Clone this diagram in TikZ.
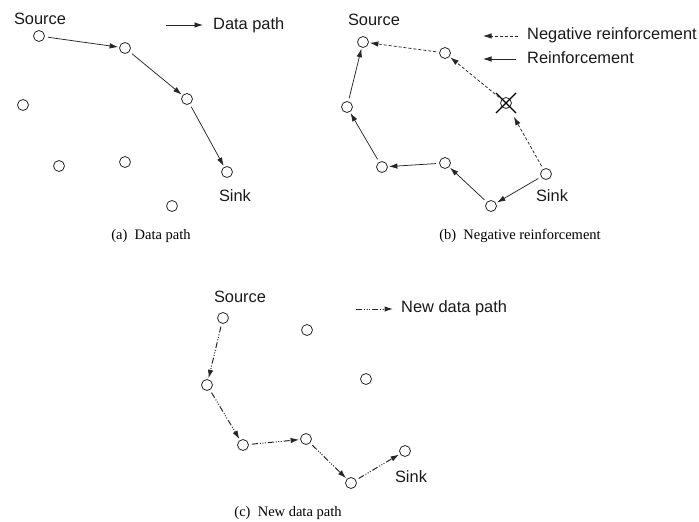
\documentclass[tikz,border=0pt]{standalone}
\usepackage{fontspec}
\setmainfont{Liberation Serif}
\setsansfont{Liberation Sans}
\usetikzlibrary{arrows.meta}
\begin{document}
\begin{tikzpicture}[x=1pt,y=-1pt,
  nd/.style={circle,draw=black!85,line width=0.8pt,minimum size=11pt,inner sep=0pt},
  lbl/.style={font=\sffamily\fontsize{16.4}{18}\selectfont,inner sep=0pt,text=black!90},
  captxt/.style={font=\rmfamily\fontsize{14.5}{16}\selectfont,inner sep=0pt},
  arr/.style={line width=0.75pt,draw=black!85,-{Latex[length=8.5pt,width=5.5pt]},shorten <=3pt,shorten >=1pt},
  neg/.style={arr,dash pattern=on 3pt off 2pt},
  newp/.style={arr,line width=1pt,dash pattern=on 6pt off 2pt on 1pt off 1.5pt on 1pt off 1.5pt on 1pt off 2pt},
  legarr/.style={line width=0.8pt,draw=black!85,-{Latex[length=8.5pt,width=5.5pt]}}]
\useasboundingbox (0,0) rectangle (699,522);

% ---------- (a) ----------
\node[nd] (a1) at (39,36) {};
\node[nd] (a2) at (125,48) {};
\node[nd] (a3) at (187,99) {};
\node[nd] (a4) at (227,172) {};
\node[nd] (a5) at (23,105) {};
\node[nd] (a6) at (59,166) {};
\node[nd] (a7) at (125,162) {};
\node[nd] (a8) at (172,206) {};
\node[lbl] (asrc) at (40,19) {Source};
\node[lbl] (asnk) at (235,196) {Sink};
\draw[arr] (a1) -- (a2);
\draw[arr] (a2) -- (a3);
\draw[arr] (a3) -- (a4);
\coordinate (la1) at (166,25);
\coordinate (la2) at (203,25);
\draw[legarr] (la1) -- (la2);
\node[lbl,anchor=west] (lat) at (213,25) {Data path};
\node[captxt] (capa) at (151,236) {(a)\ \ Data path};

% ---------- (b) ----------
\node[nd] (b1) at (363,42) {};
\node[nd] (b2) at (445,53) {};
\node[nd] (b3) at (506,103) {};
\node[nd] (b4) at (347,107) {};
\node[nd] (b5) at (382,167) {};
\node[nd] (b6) at (445,163) {};
\node[nd] (b7) at (546,174) {};
\node[nd] (b8) at (491,206) {};
\node[lbl] (bsrc) at (374,20) {Source};
\node[lbl] (bsnk) at (552,196) {Sink};
\draw[line width=1.1pt] ([shift={(-10,-10)}]b3.center) -- ([shift={(10,10)}]b3.center);
\draw[line width=1.1pt] ([shift={(10,-10)}]b3.center) -- ([shift={(-10,10)}]b3.center);
\draw[neg] (b2) -- (b1);
\draw[neg] (b3) -- (b2);
\draw[neg,shorten >=10pt] (b7) -- (b3);
\draw[arr] (b7) -- (b8);
\draw[arr] (b8) -- (b6);
\draw[arr] (b6) -- (b5);
\draw[arr] (b5) -- (b4);
\draw[arr] (b4) -- (b1);
\coordinate (lb1) at (518,36);
\coordinate (lb2) at (483,36);
\draw[legarr,dash pattern=on 3pt off 2pt] (lb1) -- (lb2);
\coordinate (lb3) at (516,59);
\coordinate (lb4) at (483,59);
\draw[legarr] (lb3) -- (lb4);
\node[lbl,anchor=west] (lbt1) at (527,35) {Negative reinforcement};
\node[lbl,anchor=west] (lbt2) at (527,58) {Reinforcement};
\node[captxt] (capb) at (520,236) {(b)\ \ Negative reinforcement};

% ---------- (c) ----------
\node[nd] (c1) at (223,318) {};
\node[nd] (c2) at (307,330) {};
\node[nd] (c3) at (366,379) {};
\node[nd] (c4) at (207,385) {};
\node[nd] (c5) at (243,445) {};
\node[nd] (c6) at (306,439) {};
\node[nd] (c7) at (351,483) {};
\node[nd] (c8) at (405,451) {};
\node[lbl] (csrc) at (240,297) {Source};
\node[lbl] (csnk) at (411,477) {Sink};
\draw[newp] (c1) -- (c4);
\draw[newp] (c4) -- (c5);
\draw[newp] (c5) -- (c6);
\draw[newp] (c6) -- (c7);
\draw[newp] (c7) -- (c8);
\coordinate (lc1) at (356,309);
\coordinate (lc2) at (393,309);
\draw[legarr,line width=1pt,dash pattern=on 6pt off 2pt on 1pt off 1.5pt on 1pt off 1.5pt on 1pt off 2pt] (lc1) -- (lc2);
\node[lbl,anchor=west] (lct) at (401,308) {New data path};
\node[captxt] (capc) at (288,513) {(c)\ \ New data path};
\end{tikzpicture}
\end{document}
